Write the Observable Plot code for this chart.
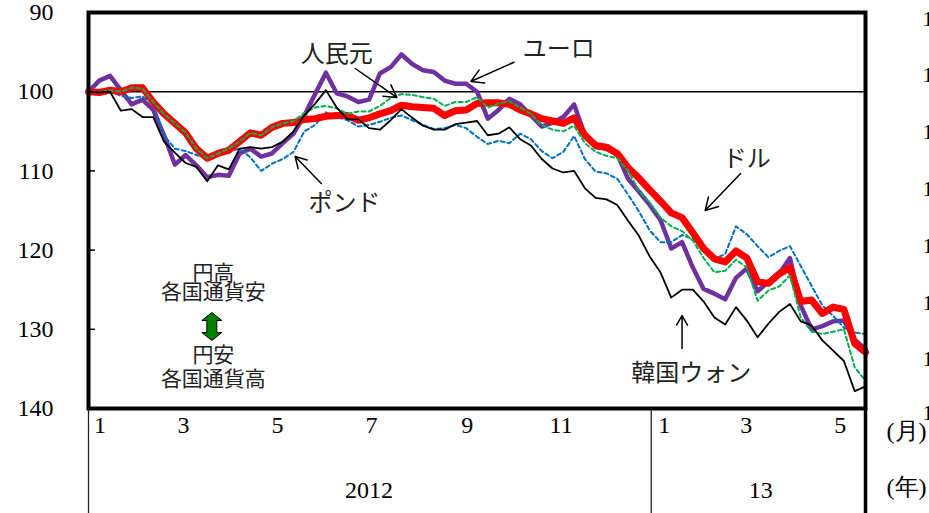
<!DOCTYPE html>
<html><head><meta charset="utf-8">
<script src="https://cdn.jsdelivr.net/npm/d3@7"></script>
<script src="https://cdn.jsdelivr.net/npm/@observablehq/plot@0.6"></script>
<style>html,body{margin:0;padding:0;background:#fff}</style>
</head><body><div id="chart"></div>
<script>
// weekly observation dates
const dates = ["2012-01-02","2012-01-09","2012-01-16","2012-01-23","2012-01-30","2012-02-06","2012-02-13","2012-02-20","2012-02-27","2012-03-05","2012-03-12","2012-03-19","2012-03-26","2012-04-02","2012-04-09","2012-04-16","2012-04-23","2012-04-30","2012-05-07","2012-05-14","2012-05-21","2012-05-28","2012-06-04","2012-06-11","2012-06-18","2012-06-25","2012-07-02","2012-07-09","2012-07-16","2012-07-23","2012-07-30","2012-08-06","2012-08-13","2012-08-20","2012-08-27","2012-09-03","2012-09-10","2012-09-17","2012-09-24","2012-10-01","2012-10-08","2012-10-15","2012-10-22","2012-10-29","2012-11-05","2012-11-12","2012-11-19","2012-11-26","2012-12-03","2012-12-10","2012-12-17","2012-12-24","2012-12-31","2013-01-07","2013-01-14","2013-01-21","2013-01-28","2013-02-04","2013-02-11","2013-02-18","2013-02-25","2013-03-04","2013-03-11","2013-03-18","2013-03-25","2013-04-01","2013-04-08","2013-04-15","2013-04-22","2013-04-29","2013-05-06","2013-05-13","2013-05-20"];

const dollar = [100,100.1,99.8,100,99.5,99.5,101.3,102.8,104,105.2,107.2,108.4,107.8,107.4,106.3,105.2,105.5,104.5,104,103.9,103.5,103.4,103.1,103,103,103.6,103.3,102.8,102.4,101.7,101.9,102,102.1,103,102.4,102.3,101.5,101.4,101.4,101.6,102.3,102.8,103.4,103.7,104,103.3,105.5,106.8,107,107.8,109.6,110.9,112.4,113.8,115.3,115.9,117.8,119.8,121.1,121.5,120.1,121,124,124.2,123,122.2,126.5,126.3,128,127.2,127.5,131.8,132.9];
const euro = [100,98.6,98,99.8,101.6,101,102.3,105.5,109.2,108,109.3,110.8,110.5,110.6,107.8,107.2,108.2,107.8,106.5,105.3,103,100.3,97.6,100.2,100.6,101.3,101,97.7,96.9,95.3,96.5,97.3,97.5,98.6,99,99,100,103.4,102.3,100.9,101.6,103,104.4,103.9,103.2,101.6,105.5,107,107.2,107.9,111,112.6,114.3,116.2,119.8,119,122.2,124.9,125.5,126.2,123.5,122.3,125.2,124,123,121,127,130,129.6,129,128.9,131.3,132.5];
const yuan = [100,100.1,99.8,100,99.5,99.6,101.3,102.8,104,105.2,107.2,108.4,107.8,107.2,106.3,105.2,105.5,104.5,104,103.7,102.7,102,101.8,102.1,102.8,102.5,102.5,101.8,100.8,100.3,100.4,100.7,100.9,101.8,101.3,101.3,100.7,102,101.5,101.2,102,102.8,104.2,104.8,105,104.3,106.5,107.6,108.1,108.4,110,112.5,114,115.9,117,117.6,118.8,121,122.8,122.6,121.2,122.2,126.4,125.1,124.6,123.2,128.5,130.3,130.6,130.3,130,134.8,136.5];
const pound = [100,99.8,100,100.5,100.8,100.6,101.5,105.5,107.2,107.5,108,108.5,108,107.5,107.2,108.3,110,109.1,108.5,107.6,105,104.2,102.6,103.2,103.6,104.4,104.2,103.8,103.3,103,103.6,104.2,104.7,104.6,104.2,104.6,105.7,106.6,106.2,106.5,105.3,106,107.5,108.4,107.6,105.6,108.5,110.1,110.3,111,113,115.1,117.5,119,119,118.1,118.6,120.1,121.1,120.5,117,118,119.5,120.9,120.1,119.5,122,124.5,127,128.3,129.8,130.4,130.6];
const won = [100,100.1,100,102.4,102.2,103.2,103.2,106.3,107.7,109,109.5,111.3,109.3,109.8,107.2,107,107.2,107,106.3,105,103,101.5,99.8,102,103.5,103.5,104.6,104.8,103.6,102.2,103.3,104.3,104.8,104.8,104.1,103.9,103.7,105.5,105.3,104.5,106,106.8,108.5,109.7,110.2,110,112.2,113.4,113.6,114.3,116.3,118.2,120.8,122.8,126,125,125,126.5,128.5,129.4,127.2,128.9,131,129.3,127.8,126.8,129,129.5,131.4,132.7,134,137.8,137.2];

const yTicks = [90,100,110,120,130,140];
const monthTicksEdge = [{date:"2012-01-01",label:"1"},{date:"2013-01-01",label:"1"}];
const monthTicksMid = [{date:"2012-03-01",label:"3"},{date:"2012-05-01",label:"5"},{date:"2012-07-01",label:"7"},{date:"2012-09-01",label:"9"},{date:"2012-11-01",label:"11"},{date:"2013-03-01",label:"3"},{date:"2013-05-01",label:"5"}];
const yearTicks = [{date:"2012-07-02",label:"2012"},{date:"2013-03-13",label:"13"}];
const rightTicks = [90.76,97.9,105.1,112.3,119.5,126.7,133.8,140.6];

// annotations (label text & arrow positions in data coordinates)
const labels = [
  {text:"人民元", date:"2012-06-11", v:95.3},
  {text:"ユーロ", date:"2012-11-02", v:94.67},
  {text:"ポンド", date:"2012-06-16", v:114.1},
  {text:"ドル", date:"2013-03-04", v:108.6},
  {text:"韓国ウォン", date:"2013-01-27", v:135.6}
];
const noteUp = [{text:"円高\n各国通貨安", date:"2012-03-23", v:124.2}];
const noteDown = [{text:"円安\n各国通貨高", date:"2012-03-23", v:134.7}];
const arrows = [
  {d1:"2012-06-23", v1:97.07, d2:"2012-07-20", v2:100.73},
  {d1:"2012-10-04", v1:96.28, d2:"2012-09-06", v2:98.71},
  {d1:"2012-06-01", v1:111.59, d2:"2012-05-15", v2:108.18},
  {d1:"2013-02-28", v1:110.33, d2:"2013-02-05", v2:115.0},
  {d1:"2013-01-21", v1:132.42, d2:"2013-01-21", v2:128.26}
];
const bothWays = [{date:"2012-03-22", v:129.65}];

const parse = s => new Date(s + "T00:00:00Z");
const startDate = parse(dates[0]), endDate = parse(dates[dates.length-1]);

const series = [
  {values: euro, stroke:"#7030a0", width:4.5, dash:null},
  {values: pound, stroke:"#0070c0", width:2, dash:"4,3"},
  {values: dollar, stroke:"#ff0000", width:7, dash:null},
  {values: yuan, stroke:"#00b050", width:2, dash:"4,3"},
  {values: won, stroke:"#000000", width:1.8, dash:null}
];

const fatArrow = {draw(ctx){
  ctx.moveTo(0,-14); ctx.lineTo(10,-6); ctx.lineTo(5,-6); ctx.lineTo(5,6); ctx.lineTo(10,6);
  ctx.lineTo(0,14); ctx.lineTo(-10,6); ctx.lineTo(-5,6); ctx.lineTo(-5,-6); ctx.lineTo(-10,-6); ctx.closePath();
}};

const serif = "Liberation Serif, DejaVu Serif, serif";
const jp = "Noto Sans CJK JP, sans-serif";

const marks = [
  Plot.ruleY([100], {stroke:"#000", strokeWidth:1.5}),
  Plot.tickY(yTicks, {y: d => d, insetRight: 770, stroke:"#000", strokeWidth:1.5}),
  ...series.map(s => Plot.line(dates.map((d,i) => ({date: parse(d), v: s.values[i]})), {
    x:"date", y:"v", stroke:s.stroke, strokeWidth:s.width, strokeDasharray:s.dash,
    strokeLinejoin:"round", strokeLinecap:"round"
  })),
  Plot.frame({stroke:"#000", strokeWidth:4}),
  Plot.axisY(yTicks, {tickSize:0, tickPadding:35, fontSize:24, fontFamily:serif, label:null}),
  Plot.axisX([startDate, parse("2013-01-01")], {tickSize:105, tickFormat:() => "", stroke:"#222", strokeWidth:1.3, label:null}),
  Plot.axisX([endDate], {tickSize:105, tickFormat:() => "", stroke:"#000", strokeWidth:3.5, label:null}),
  Plot.text(monthTicksEdge, {x: d => parse(d.date), text:"label", frameAnchor:"bottom", dy:24, dx:13, fontSize:24, fontFamily:serif}),
  Plot.text(monthTicksMid, {x: d => parse(d.date), text:"label", frameAnchor:"bottom", dy:24, dx:4, fontSize:24, fontFamily:serif}),
  Plot.text(yearTicks, {x: d => parse(d.date), text:"label", frameAnchor:"bottom", dy:89, fontSize:24, fontFamily:serif}),
  Plot.text(["(月)"], {text: d => d, frameAnchor:"bottom-right", textAnchor:"middle", dx:41, dy:30, fontSize:24, fontFamily:serif}),
  Plot.text(["(年)"], {text: d => d, frameAnchor:"bottom-right", textAnchor:"middle", dx:41, dy:86, fontSize:24, fontFamily:serif}),
  Plot.text(rightTicks, {y: d => d, text: () => "1", frameAnchor:"right", dx:57, textAnchor:"start", fontSize:22, fontFamily:serif}),
  Plot.arrow(arrows, {x1: d => parse(d.d1), y1:"v1", x2: d => parse(d.d2), y2:"v2", stroke:"#000", strokeWidth:1.5, headLength:14}),
  Plot.text(labels, {x: d => parse(d.date), y:"v", text:"text", fontSize:24, fontFamily:jp, fill:"#222"}),
  Plot.text(noteUp, {x: d => parse(d.date), y:"v", text:"text", fontSize:21, lineHeight:0.93, fontFamily:jp, fill:"#222"}),
  Plot.text(noteDown, {x: d => parse(d.date), y:"v", text:"text", fontSize:21, lineHeight:1.12, fontFamily:jp, fill:"#222"}),
  Plot.dot(bothWays, {x: d => parse(d.date), y:"v", symbol: fatArrow, r:10, fill:"#008000", stroke:"#000", strokeWidth:1})
];

const chart = Plot.plot({
  width: 929, height: 513,
  marginLeft: 88, marginRight: 64, marginTop: 12, marginBottom: 105,
  style: {fontFamily: serif, background: "#fff", color: "#000", overflow: "visible"},
  x: {type:"utc", domain:[startDate, endDate]},
  y: {domain:[90,140], reverse:true},
  marks
});
document.getElementById("chart").appendChild(chart);
</script>
</body></html>
